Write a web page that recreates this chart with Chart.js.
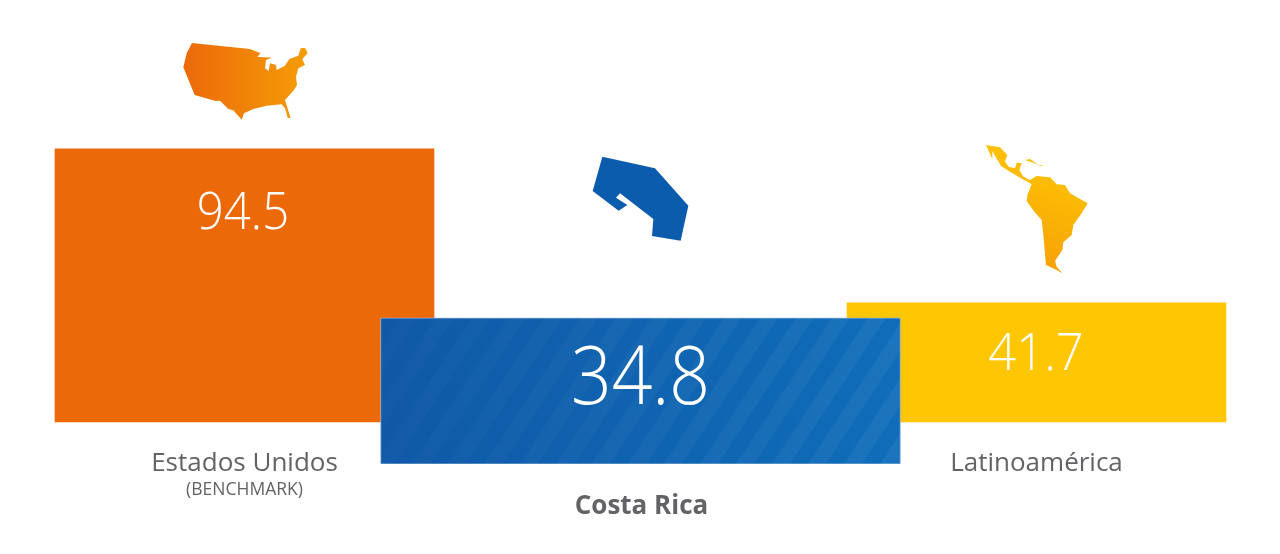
<!DOCTYPE html>
<html>
<head>
<meta charset="utf-8">
<style>
  html, body { margin: 0; padding: 0; background: #fff; }
  canvas { display: block; }
</style>
<script src="https://cdn.jsdelivr.net/npm/chart.js@4"></script>
</head>
<body>
<canvas id="myChart" width="1280" height="554"></canvas>
<script>
// values printed on the bars
const categories = ['Estados Unidos', 'Costa Rica', 'Latinoamérica'];
const values = [94.5, 34.8, 41.7];
// how far each bar really reaches in the picture (Costa Rica hangs below the baseline)
const barStart = [0, -14.5, 0];
const barEnd = [94.5, 36, 41.2];
const barWidths = [379, 520, 379];
const subLabel = '(BENCHMARK)';

const ORANGE = '#ec690a';
const YELLOW = '#ffc603';
const GREY = '#626366';

// map icons, just decoration, [x, y] in zoomed crop coords
const usaShape = [[66,24],[240,42],[272,55],[262,65],[305,68],[288,75],[285,100],[296,108],[300,85],[318,90],[320,105],[345,92],[358,72],[385,62],[392,40],[405,38],[413,55],[397,72],[405,90],[385,100],[378,125],[381,150],[372,165],[345,195],[362,250],[353,248],[345,220],[335,208],[290,212],[250,222],[222,235],[215,254],[190,226],[175,222],[150,197],[137,198],[74,180],[40,97],[50,55]];
const costaRicaShape = [[67,35],[225,70],[325,182],[302,287],[216,273],[220,222],[120,145],[108,158],[142,180],[116,197],[38,138]];
const latamShape = [[33,30],[75,37],[88,50],[97,60],[90,78],[100,95],[120,100],[125,83],[140,85],[133,105],[145,125],[165,135],[185,123],[225,127],[245,148],[270,150],[285,175],[338,205],[320,235],[295,270],[290,300],[265,322],[262,345],[240,378],[245,395],[262,415],[245,405],[213,390],[205,300],[200,255],[178,230],[155,198],[158,178],[170,148],[160,142],[130,125],[105,110],[78,93],[60,62],[52,48],[52,72],[42,50]];
const cubaShape = [[150,75],[165,72],[190,90],[170,82]];
const hispaniolaShape = [[190,90],[208,92],[195,93]];

function tracePoly(ctx, pts, ox, oy) {
  ctx.beginPath();
  pts.forEach((p, i) => {
    const x = ox + p[0] / 3, y = oy + p[1] / 3;
    if (i === 0) ctx.moveTo(x, y); else ctx.lineTo(x, y);
  });
  ctx.closePath();
}

// the original digits are narrower than Open Sans, so squeeze them a bit
function squeezedText(c, text, x, y, sx) {
  c.save();
  c.translate(x, y);
  c.scale(sx, 1);
  c.fillText(text, 0, 0);
  c.restore();
}

// striped blue fill, same size as the canvas so the pattern lines up with it
function makeBluePattern(ctx) {
  const c = document.createElement('canvas');
  c.width = 1280; c.height = 554;
  const g = c.getContext('2d');
  const base = g.createLinearGradient(380, 0, 900, 0);
  base.addColorStop(0, '#1059a7');
  base.addColorStop(1, '#0f6db9');
  g.fillStyle = base;
  g.fillRect(0, 0, 1280, 554);
  const light = g.createLinearGradient(380, 0, 900, 0);
  light.addColorStop(0, 'rgba(255,255,255,0.01)');
  light.addColorStop(1, 'rgba(255,255,255,0.05)');
  g.fillStyle = light;
  for (let x = 300; x < 1200; x += 36) {
    g.beginPath();
    g.moveTo(x, 470);
    g.lineTo(x + 18, 470);
    g.lineTo(x + 18 + 105, 310);
    g.lineTo(x + 105, 310);
    g.closePath();
    g.fill();
  }
  return ctx.createPattern(c, 'no-repeat');
}

const canvas = document.getElementById('myChart');
const ctx = canvas.getContext('2d');
const bluePattern = makeBluePattern(ctx);

function oneBar(i) {
  return categories.map((c, j) => (j === i ? [barStart[i], barEnd[i]] : null));
}

const decorations = {
  id: 'decorations',
  afterDatasetsDraw(chart) {
    const c = chart.ctx;
    const x = i => chart.scales.x.getPixelForValue(i);
    c.save();

    // value labels
    c.fillStyle = '#fff';
    c.textAlign = 'center';
    c.textBaseline = 'alphabetic';
    c.font = '300 52px "Open Sans"';
    squeezedText(c, values[0].toFixed(1), x(0) - 1.5, 229, 0.91);
    squeezedText(c, values[2].toFixed(1), x(2) - 0.5, 370, 0.94);
    c.font = '300 82px "Open Sans"';
    squeezedText(c, values[1].toFixed(1), x(1), 404, 0.87);

    // category labels
    c.fillStyle = GREY;
    c.font = '26px "Open Sans"';
    c.fillText(categories[0], x(0), 471);
    c.fillText(categories[2], x(2), 471);
    c.font = '17.5px "Open Sans"';
    c.fillText(subLabel, x(0), 495);
    c.font = 'bold 26px "Open Sans"';
    c.fillText(categories[1], x(1) + 1, 514);

    // icons
    let grad = c.createLinearGradient(183, 0, 308, 0);
    grad.addColorStop(0, '#ec690a');
    grad.addColorStop(1, '#f59d06');
    c.fillStyle = grad;
    tracePoly(c, usaShape, 170, 35);
    c.fill();

    c.fillStyle = '#0c5cad';
    tracePoly(c, costaRicaShape, 580, 145);
    c.fill();

    grad = c.createLinearGradient(1060, 170, 1020, 275);
    grad.addColorStop(0, '#fdc104');
    grad.addColorStop(1, '#f59d06');
    c.fillStyle = grad;
    [latamShape, cubaShape, hispaniolaShape].forEach(s => {
      tracePoly(c, s, 975, 135);
      c.fill();
    });
    c.restore();
  }
};

new Chart(ctx, {
  type: 'bar',
  data: {
    labels: categories,
    datasets: [
      { data: oneBar(0), backgroundColor: ORANGE, barThickness: barWidths[0], order: 3 },
      { data: oneBar(2), backgroundColor: YELLOW, barThickness: barWidths[2], order: 2 },
      { data: oneBar(1), backgroundColor: bluePattern, borderColor: '#8eb0dc', borderWidth: 1, barThickness: barWidths[1], order: 1 }
    ]
  },
  options: {
    responsive: false,
    animation: false,
    layout: { padding: { left: 46.5, right: 45.5, top: 17.5, bottom: 16.5 } },
    plugins: { legend: { display: false }, tooltip: { enabled: false } },
    datasets: { bar: { grouped: false } },
    scales: {
      x: { display: false },
      y: { display: false, min: -40, max: 140 }
    }
  },
  plugins: [decorations]
});
</script>
</body>
</html>
